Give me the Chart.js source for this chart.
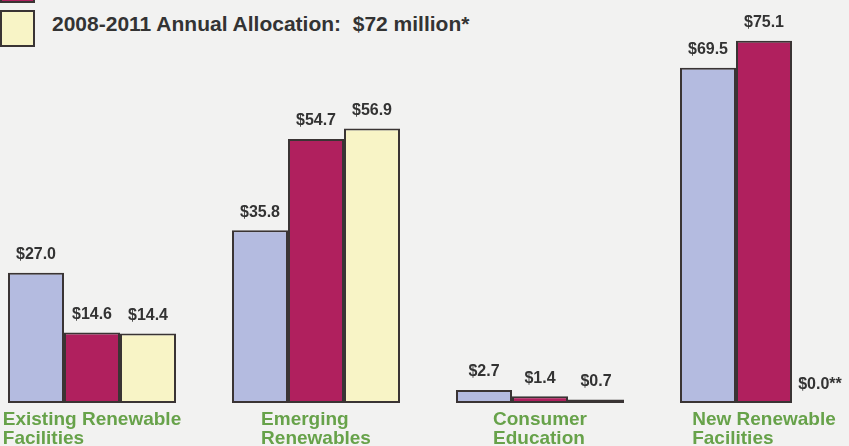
<!DOCTYPE html>
<html>
<head>
<meta charset="utf-8">
<script src="https://cdn.jsdelivr.net/npm/chart.js@4"></script>
<style>
  html, body { margin: 0; padding: 0; background: #f2f2f1; overflow: hidden; }
  body { width: 849px; height: 446px; position: relative; }
  #wrap { position: absolute; left: -20px; top: 0; width: 896px; height: 446px; }
  .key { position: absolute; left: 0; width: 31px; border: 2px solid #3a3434; }
  .key-label { position: absolute; left: 52px; top: 12px; font: bold 21px "Liberation Sans", Arial, sans-serif; color: #333; white-space: pre; }
</style>
</head>
<body>
<!-- legend: the upper entry is cut off at the top edge -->
<div class="key" style="top:-34px;height:33px;background:#b0205e"></div>
<div class="key" style="top:10px;height:33px;background:#f8f4c6"></div>
<div class="key-label">2008-2011 Annual Allocation:  $72 million*</div>

<div id="wrap"><canvas id="myChart"></canvas></div>

<script>
// program areas along the bottom
const categories = [
  ['Existing Renewable', 'Facilities'],
  ['Emerging', 'Renewables'],
  ['Consumer', 'Education'],
  ['New Renewable', 'Facilities']
];

// allocations in $ million
const blueValues    = [27.0, 35.8, 2.7, 69.5];
const magentaValues = [14.6, 54.7, 1.4, 75.1];
const yellowValues  = [14.4, 56.9, 0.7, 0.0];
const yellowNotes   = ['', '', '', '**'];

// value labels above each bar
const valueLabels = {
  id: 'valueLabels',
  afterDatasetsDraw(chart) {
    const ctx = chart.ctx;
    ctx.save();
    ctx.font = 'bold 16px "Liberation Sans", Arial, sans-serif';
    ctx.fillStyle = '#333';
    ctx.textAlign = 'center';
    ctx.textBaseline = 'bottom';
    chart.data.datasets.forEach((ds, i) => {
      chart.getDatasetMeta(i).data.forEach((bar, j) => {
        const note = ds.notes ? ds.notes[j] : '';
        ctx.fillText('$' + ds.data[j].toFixed(1) + note, bar.x, bar.y - 10);
      });
    });
    ctx.restore();
  }
};

// green two-line category names under each group, lines flush left
const categoryLabels = {
  id: 'categoryLabels',
  afterDraw(chart) {
    const ctx = chart.ctx;
    const xs = chart.scales.x;
    ctx.save();
    ctx.font = 'bold 19px "Liberation Sans", Arial, sans-serif';
    ctx.fillStyle = '#67a24a';
    ctx.textAlign = 'left';
    ctx.textBaseline = 'alphabetic';
    categories.forEach((lines, i) => {
      const w = Math.max(...lines.map(l => ctx.measureText(l).width));
      const left = xs.getPixelForValue(i) - w / 2;
      lines.forEach((l, k) => ctx.fillText(l, left, chart.chartArea.bottom + 22 + k * 19));
    });
    ctx.restore();
  }
};

const ctx = document.getElementById('myChart').getContext('2d');

new Chart(ctx, {
  type: 'bar',
  data: {
    labels: categories,
    datasets: [
      { label: 'Blue', data: blueValues, backgroundColor: '#b4bbe0' },
      { label: 'Magenta', data: magentaValues, backgroundColor: '#b0205e' },
      { label: '2008-2011 Annual Allocation', data: yellowValues, notes: yellowNotes, backgroundColor: '#f8f4c6' }
    ].map(d => Object.assign(d, {
      borderColor: '#3a3434',
      borderWidth: 2,
      borderSkipped: false,
      categoryPercentage: 0.75,
      barPercentage: 1
    }))
  },
  options: {
    responsive: true,
    maintainAspectRatio: false,
    animation: false,
    layout: { padding: { top: 17, bottom: 43, left: 0, right: 0 } },
    plugins: {
      legend: { display: false },
      tooltip: { enabled: false }
    },
    scales: {
      x: { display: false },
      y: { display: false, min: 0, max: 80 }
    }
  },
  plugins: [valueLabels, categoryLabels]
});
</script>
</body>
</html>
